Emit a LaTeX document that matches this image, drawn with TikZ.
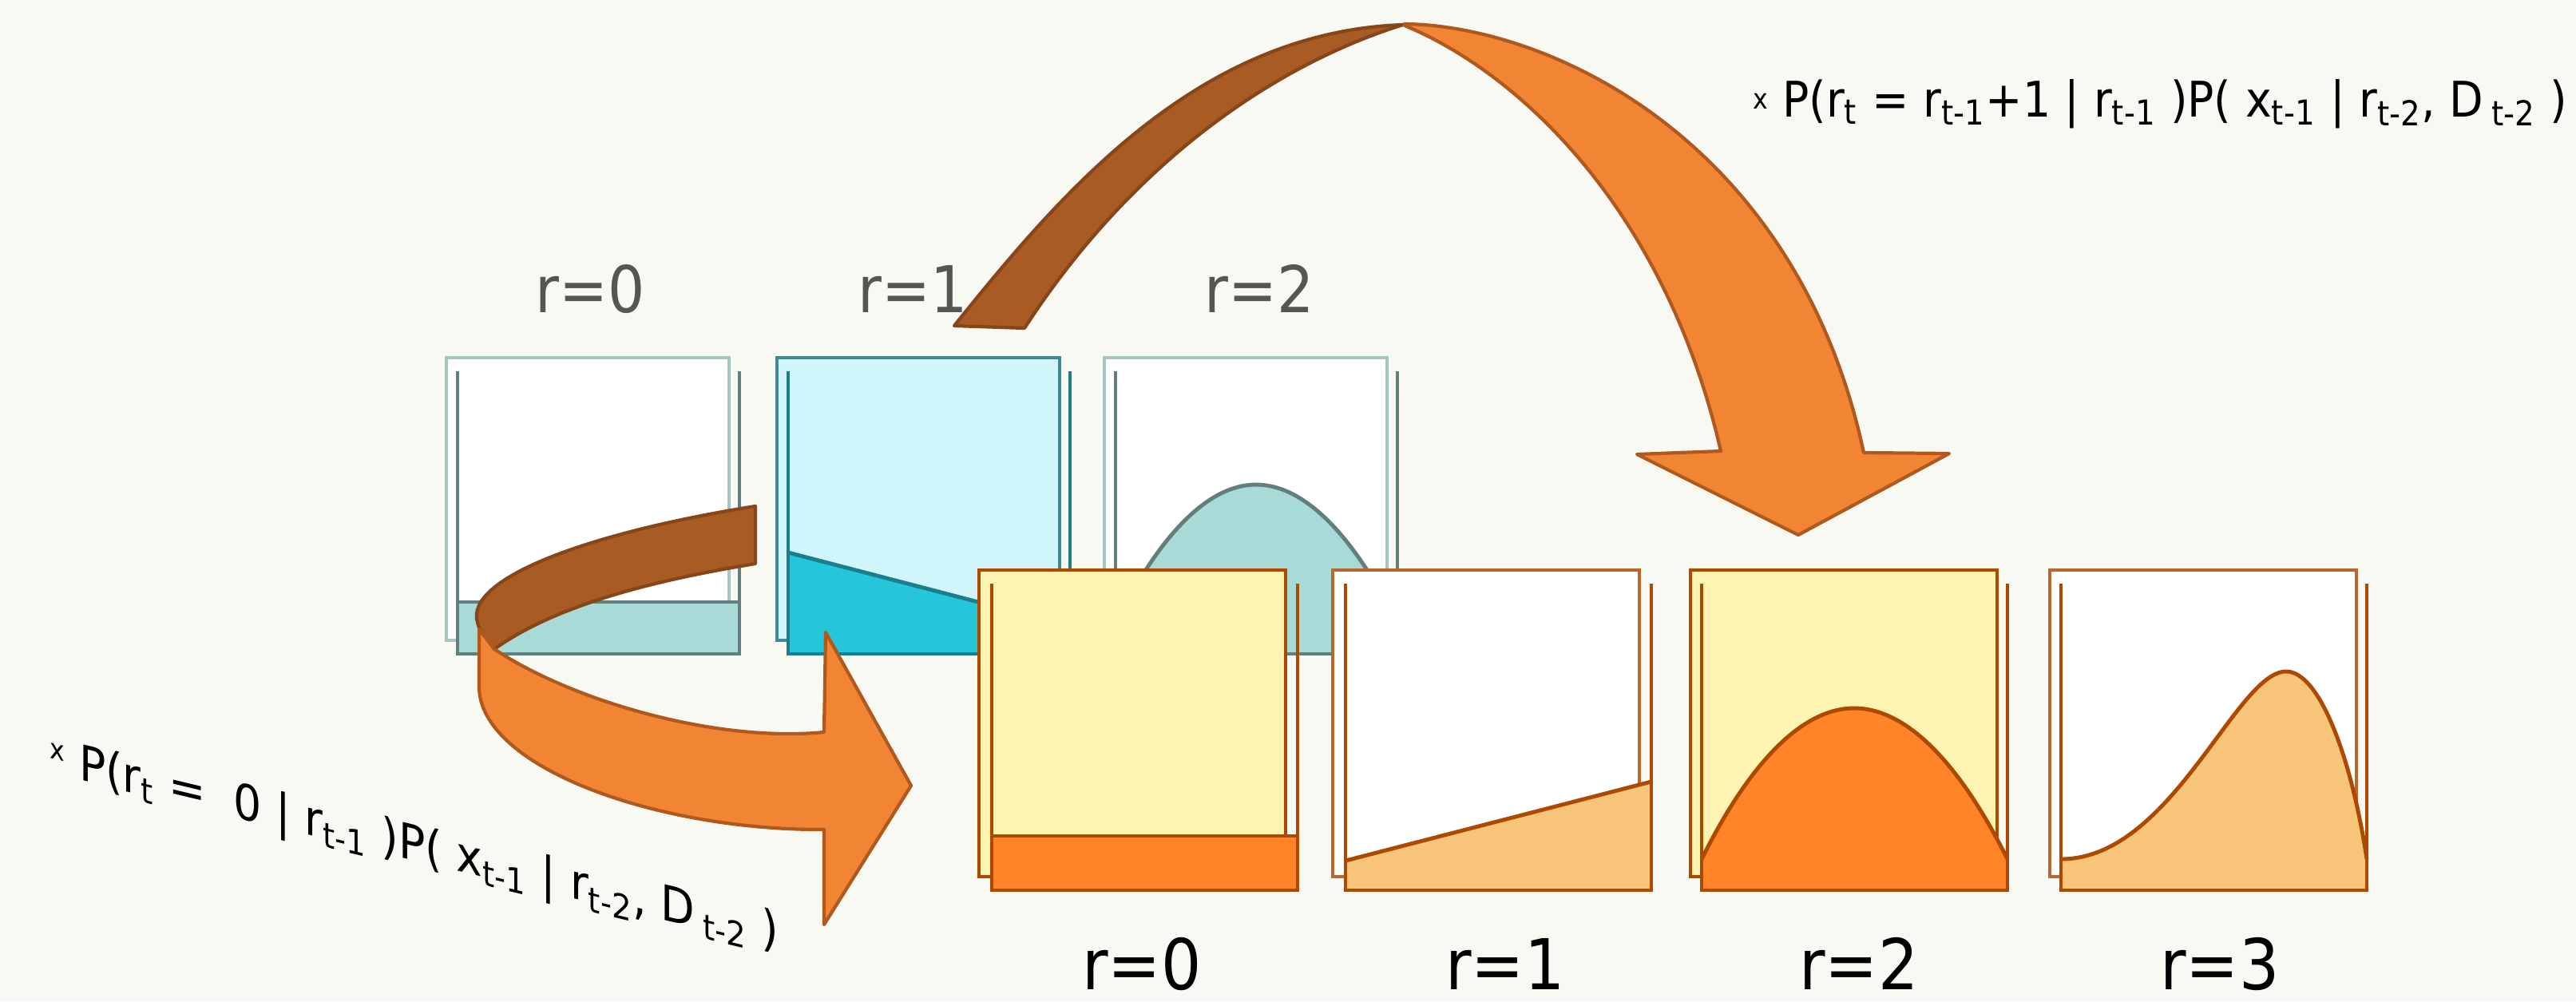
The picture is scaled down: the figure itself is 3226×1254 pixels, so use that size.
\documentclass[tikz,border=0pt]{standalone}
\usepackage{fontspec}
\setmainfont[FakeStretch=0.9]{DejaVu Sans}

\definecolor{paper}{HTML}{F9F9F4}
\definecolor{tealframe}{HTML}{A5C4C2}
\definecolor{tealline}{HTML}{627F7D}
\definecolor{tealfill}{HTML}{A8DBD7}
\definecolor{cyanframe}{HTML}{3F8894}
\definecolor{cyanback}{HTML}{D0F6FC}
\definecolor{cyanline}{HTML}{1B7E8D}
\definecolor{cyanfill}{HTML}{26C6DA}
\definecolor{rust}{HTML}{AD4A00}
\definecolor{rustlight}{HTML}{B8682D}
\definecolor{cream}{HTML}{FEF4B1}
\definecolor{orangefill}{HTML}{FF8428}
\definecolor{peach}{HTML}{F7C47A}
\definecolor{brownarrow}{HTML}{A85B22}
\definecolor{brownedge}{HTML}{874619}
\definecolor{orangearrow}{HTML}{F28533}
\definecolor{orangeedge}{HTML}{B0591F}
\definecolor{labelgray}{HTML}{555555}

\newcommand{\tsub}[1]{\textsubscript{#1}}
\newcommand{\timesmark}[1][0.15em]{\raisebox{#1}{\fontsize{10}{12}\selectfont x}}

\begin{document}
\begin{tikzpicture}[
  x=0.1mm, y=-0.1mm,
  frame/.style={line width=1.4pt},
  axis/.style={line width=1.4pt},
  ribbon/.style={line width=1.2pt, line join=round},
  toplabel/.style={text=labelgray, font=\fontsize{23}{27}\selectfont, anchor=base},
  botlabel/.style={font=\fontsize{25}{30}\selectfont, anchor=base},
  formula/.style={font=\fontsize{17.5}{21}\selectfont, inner sep=0pt, anchor=base west}
]
  \fill[paper] (0,0) rectangle (3226,1254);

  % run lengths at t-1
  \filldraw[frame, draw=tealframe, fill=white] (559,448) rectangle (913,802);
  \fill[tealfill] (573,754) rectangle (926,819);
  \draw[axis, tealline] (573,754) -- (926,754);
  \draw[axis, tealline] (573,465) |- (926,819) -- (926,465);

  \filldraw[frame, draw=cyanframe, fill=cyanback] (973,448) rectangle (1327,802);
  \fill[cyanfill] (987,692) -- (1340,784) |- (987,819) -- cycle;
  \draw[axis, cyanline] (987,692) -- (1340,784);
  \draw[axis, cyanline] (987,465) |- (1340,819) -- (1340,465);

  \filldraw[frame, draw=tealframe, fill=white] (1383,448) rectangle (1737,802);
  \fill[tealfill] (1397,781) parabola bend (1573,607) (1750,781) |- (1397,819) -- cycle;
  \draw[axis, tealline] (1397,781) parabola bend (1573,607) (1750,781);
  \draw[axis, tealline] (1397,465) |- (1750,819) -- (1750,465);

  \node[toplabel] (p0) at (739,391) {r=0};
  \node[toplabel] (p1) at (1143,391) {r=1};
  \node[toplabel] (p2) at (1577,391) {r=2};

  % changepoint arrow
  \filldraw[ribbon, fill=brownarrow, draw=brownedge]
    (946,634) .. controls (750,665) and (590,720) .. (597,775)
    .. controls (600,792) and (610,805) .. (619,813)
    .. controls (700,755) and (830,725) .. (946,706) -- cycle;
  \filldraw[ribbon, fill=orangearrow, draw=orangeedge]
    (600,788) -- (619,813) .. controls (720,880) and (900,930) .. (1032,917)
    -- (1034,792) -- (1141,984) -- (1032,1158) -- (1032,1039)
    .. controls (820,1040) and (600,960) .. (600,860) -- cycle;

  % run lengths at t
  \filldraw[frame, draw=rust, fill=cream] (1226,714) rectangle (1610,1098);
  \fill[orangefill] (1242,1047) rectangle (1625,1115);
  \draw[axis, rust] (1242,1047) -- (1625,1047);
  \draw[axis, rust] (1242,731) |- (1625,1115) -- (1625,731);

  \filldraw[frame, draw=rustlight, fill=white] (1669,714) rectangle (2053,1098);
  \fill[peach] (1685,1078) -- (2068,979) |- (1685,1115) -- cycle;
  \draw[axis, rust] (1685,1078) -- (2068,979);
  \draw[axis, rust] (1685,731) |- (2068,1115) -- (2068,731);

  \filldraw[frame, draw=rust, fill=cream] (2117,714) rectangle (2501,1098);
  \fill[orangefill] (2131,1076) parabola bend (2322,887) (2514,1076) |- (2131,1115) -- cycle;
  \draw[axis, rust] (2131,1076) parabola bend (2322,887) (2514,1076);
  \draw[axis, rust] (2131,731) |- (2514,1115) -- (2514,731);

  \filldraw[frame, draw=rustlight, fill=white] (2567,714) rectangle (2951,1098);
  \fill[peach] (2581,1076) .. controls (2720,1076) and (2800,841) .. (2863,841)
    .. controls (2905,841) and (2945,950) .. (2964,1076) |- (2581,1115) -- cycle;
  \draw[axis, rust] (2581,1076) .. controls (2720,1076) and (2800,841) .. (2863,841)
    .. controls (2905,841) and (2945,950) .. (2964,1076);
  \draw[axis, rust] (2581,731) |- (2964,1115) -- (2964,731);

  \node[botlabel] (q0) at (1430,1239) {r=0};
  \node[botlabel] (q1) at (1885,1239) {r=1};
  \node[botlabel] (q2) at (2328,1239) {r=2};
  \node[botlabel] (q3) at (2780,1239) {r=3};

  % growth arrow
  \filldraw[ribbon, fill=brownarrow, draw=brownedge]
    (1195,408) .. controls (1330,240) and (1500,40) .. (1757,31)
    .. controls (1600,80) and (1420,200) .. (1283,411) -- cycle;
  \filldraw[ribbon, fill=orangearrow, draw=orangeedge]
    (1759,30) .. controls (1940,32) and (2250,175) .. (2334,567)
    -- (2441,568) -- (2252,670) -- (2050,569) -- (2155,565)
    .. controls (2085,260) and (1900,90) .. (1759,32) -- cycle;

  \node[formula] (grow) at (2195,146)
    {\timesmark\ P(r\tsub{t} = r\tsub{t-1}+1 | r\tsub{t-1} )P( x\tsub{t-1} | r\tsub{t-2}, D\,\tsub{t-2} )};
  \node[formula, yslant=-0.24] (reset) at (62,968)
    {\timesmark[0.3em]\ P(r\tsub{t} =\ \ 0 | r\tsub{t-1} )P( x\tsub{t-1} | r\tsub{t-2}, D\,\tsub{t-2} )};
\end{tikzpicture}
\end{document}
